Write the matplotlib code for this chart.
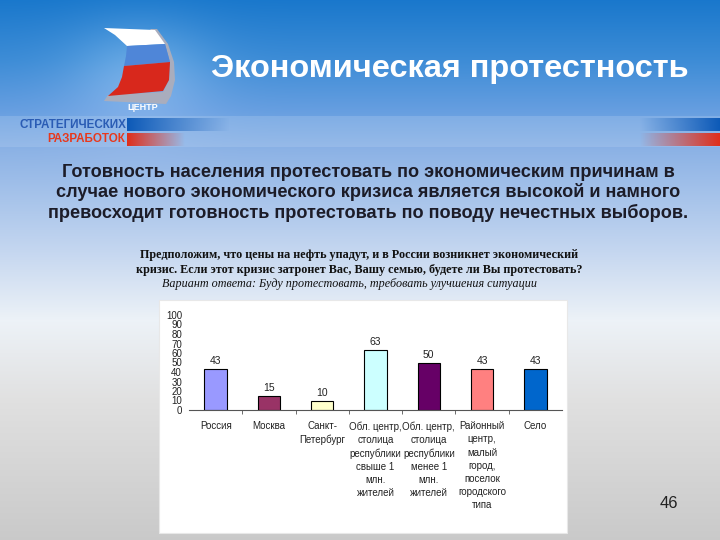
import matplotlib
matplotlib.use('Agg')
import matplotlib.pyplot as plt
import numpy as np
from matplotlib.patches import Polygon

categories = ['Россия', 'Москва', 'Санкт-\nПетербург',
              'Обл. центр,\nстолица\nреспублики\nсвыше 1\nмлн.\nжителей',
              'Обл. центр,\nстолица\nреспублики\nменее 1\nмлн.\nжителей',
              'Районный\nцентр,\nмалый\nгород,\nпоселок\nгородского\nтипа',
              'Село']
values = [43, 15, 10, 63, 50, 43, 43]
bar_colors = ['#9999FF', '#993366', '#FFFFCC', '#CCFFFF', '#660066', '#FF8080', '#0066CC']
y_ticks = list(range(0, 101, 10))

title = 'Экономическая протестность'
headline = ('Готовность населения протестовать по экономическим причинам в\n'
            'случае нового экономического кризиса является высокой и намного\n'
            'превосходит готовность протестовать по поводу нечестных выборов.')
question = ('Предположим, что цены на нефть упадут, и в России возникнет экономический\n'
            'кризис. Если этот кризис затронет Вас, Вашу семью, будете ли Вы протестовать?')
answer = 'Вариант ответа: Буду протестовать, требовать улучшения ситуации'

W, H = 720, 540
fig = plt.figure(figsize=(7.2, 5.4), dpi=100)

# slide background
bg_ax = fig.add_axes([0, 0, 1, 1], zorder=0)
bg_ax.set_xlim(0, W)
bg_ax.set_ylim(H, 0)
bg_ax.axis('off')

ys = np.arange(H)
stops = [0, 60, 110, 150, 250, 320, 400, 540]
r = np.interp(ys, stops, [0.10, 0.24, 0.40, 0.55, 0.77, 0.93, 0.88, 0.79])
g = np.interp(ys, stops, [0.47, 0.55, 0.62, 0.70, 0.84, 0.95, 0.88, 0.79])
b = np.interp(ys, stops, [0.80, 0.84, 0.88, 0.90, 0.94, 0.97, 0.88, 0.79])
img = np.stack([r, g, b], axis=1)[:, None, :].repeat(W, axis=1)
# soft glow behind the logo
gx, gy = np.meshgrid(np.arange(W), ys)
glow = 0.18 * np.exp(-(((gx - 140) / 70.0) ** 2 + ((gy - 70) / 55.0) ** 2))
img = np.clip(img + glow[..., None] * np.array([0.9, 0.6, 0.3]), 0, 1)
# light stripe band under the header
band = (ys >= 116) & (ys <= 146)
img[band] = img[band] * 0.75 + 0.25 * np.array([0.75, 0.84, 0.95])
bg_ax.imshow(img, extent=[0, W, H, 0], aspect='auto', zorder=0)

# blue/red stripe ends on the right and after logo text
xs = np.linspace(0, 1, 200)[None, :]
blue_end = np.zeros((1, 200, 4)); blue_end[..., :3] = [0.05, 0.35, 0.72]; blue_end[..., 3] = xs
red_end = np.zeros((1, 200, 4)); red_end[..., :3] = [0.88, 0.18, 0.10]; red_end[..., 3] = xs
bg_ax.imshow(blue_end, extent=[640, 720, 131, 118], aspect='auto', zorder=1)
bg_ax.imshow(red_end, extent=[640, 720, 146, 133], aspect='auto', zorder=1)
bg_ax.imshow(blue_end[:, ::-1], extent=[127, 230, 131, 118], aspect='auto', zorder=1)
bg_ax.imshow(red_end[:, ::-1], extent=[127, 185, 146, 133], aspect='auto', zorder=1)

# logo sail
bg_ax.add_patch(Polygon([(150, 29), (157, 29), (168, 44), (174, 62), (175, 80), (171, 96),
                         (166, 104), (104, 101), (108, 95), (163, 92), (169, 80), (170, 62),
                         (165, 44)],
                        closed=True, facecolor='#a9adbd', edgecolor='none', zorder=2))
bg_ax.add_patch(Polygon([(104, 28), (155, 30), (165, 44), (127, 46), (115, 35)], closed=True,
                        facecolor='white', edgecolor='none', zorder=3))
bg_ax.add_patch(Polygon([(127, 46), (165, 44), (170, 62), (124, 66), (126, 56)], closed=True,
                        facecolor='#4f86d8', edgecolor='none', zorder=3))
bg_ax.add_patch(Polygon([(124, 66), (170, 62), (169, 80), (163, 91), (108, 96), (118, 87),
                         (122, 77)], closed=True,
                        facecolor='#d8281c', edgecolor='none', zorder=3))
bg_ax.text(143, 108, 'ЦЕНТР', color='white', fontsize=6.5, fontweight='bold',
           ha='center', va='center', family='Liberation Sans', zorder=4)
bg_ax.text(20, 124.5, 'СТРАТЕГИЧЕСКИХ', color='#2a5cb4', fontsize=8.4, fontweight='bold',
           ha='left', va='center', family='Liberation Sans', zorder=4)
bg_ax.text(47, 139.5, 'РАЗРАБОТОК', color='#e8381c', fontsize=8.4, fontweight='bold',
           ha='left', va='center', family='Liberation Sans', zorder=4)

# slide texts
bg_ax.text(450, 69, title, color='white', fontsize=23.4, fontweight='bold',
           ha='center', va='center', family='Liberation Sans', zorder=4)
bg_ax.text(368, 193, headline, color='#1c1c28', fontsize=13.05, fontweight='bold',
           ha='center', va='center', family='Liberation Sans', linespacing=1.2, zorder=4)
bg_ax.text(359, 262.5, question, color='#111111', fontsize=8.75, fontweight='bold',
           ha='center', va='center', family='Liberation Serif', linespacing=1.25, zorder=4)
bg_ax.text(350, 284, answer, color='#111111', fontsize=8.75, style='italic',
           ha='center', va='center', family='Liberation Serif', zorder=4)

# white chart box
bg_ax.add_patch(plt.Rectangle((159, 300), 408, 233, facecolor='white', edgecolor='#e8e8e8',
                              linewidth=0.8, zorder=4))
bg_ax.text(669, 504, '46', color='#222222', fontsize=12, ha='center', va='center',
           family='Liberation Sans', zorder=4)

# chart
ax = fig.add_axes([189 / W, 1 - 410 / H, 373 / W, 95 / H], zorder=5)
ax.patch.set_alpha(0)
x = np.arange(len(categories))
ax.bar(x, values, width=0.42, color=bar_colors, edgecolor='black', linewidth=0.8)
for xi, v in zip(x, values):
    ax.text(xi, v + 3, str(v), ha='center', va='bottom', fontsize=7.5,
            family='Liberation Sans', color='#222222')

ax.set_xlim(-0.5, len(categories) - 0.5)
ax.set_ylim(0, 100)
ax.set_yticks(y_ticks)
ax.set_yticklabels([str(t) for t in y_ticks], fontsize=7, family='Liberation Sans', color='#222222')
ax.tick_params(axis='y', length=0, pad=5)
ax.set_xticks(x)
ax.set_xticklabels(categories, fontsize=7, family='Liberation Sans', color='#222222',
                   linespacing=1.4, va='top')
ax.tick_params(axis='x', which='major', length=0, pad=8)
ax.set_xticks(np.arange(0.5, len(categories) - 1, 1), minor=True)
ax.tick_params(axis='x', which='minor', length=3, width=0.6, color='#555555', direction='out')
for s in ['top', 'right', 'left']:
    ax.spines[s].set_visible(False)
ax.spines['bottom'].set_color('#555555')
ax.spines['bottom'].set_linewidth(0.8)

fig.savefig('out.png', dpi=100)
